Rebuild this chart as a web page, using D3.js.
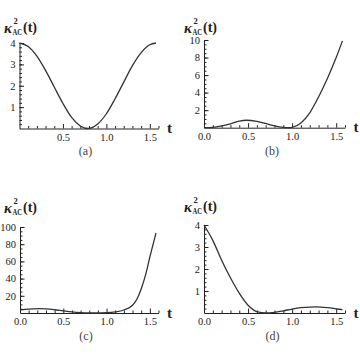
<!DOCTYPE html>
<html>
<head>
<meta charset="utf-8">
<script src="https://cdnjs.cloudflare.com/ajax/libs/d3/7.8.5/d3.min.js"></script>
<style>
  body { margin: 0; background: #fff; }
  svg { display: block; }
  .tick text { font-family: "Liberation Serif", "DejaVu Serif", serif; font-size: 10.5px; fill: #1a1a1a; }
  .tick line, .domain { stroke: #222; }
</style>
</head>
<body>
<svg width="360" height="360"></svg>
<script>
// values, t from 0 to pi/2
const tA = [0, 0.1, 0.2, 0.3, 0.4, 0.5, 0.6, 0.7, 0.785, 0.8, 0.9, 1.0, 1.1, 1.2, 1.3, 1.4, 1.5, 1.571];
const kA = [4, 3.84, 3.39, 2.72, 1.94, 1.17, 0.52, 0.12, 0, 0.003, 0.21, 0.69, 1.39, 2.17, 2.94, 3.55, 3.92, 4];

const tB = [0, 0.1, 0.2, 0.3, 0.4, 0.48, 0.6, 0.7, 0.8, 0.9, 0.96, 1.0, 1.1, 1.2, 1.3, 1.4, 1.5, 1.571];
const kB = [0, 0.04, 0.2, 0.45, 0.75, 0.85, 0.72, 0.48, 0.2, 0.03, 0, 0.04, 0.55, 1.7, 3.5, 5.6, 8.0, 9.9];

const tC = [0, 0.1, 0.22, 0.3, 0.4, 0.5, 0.6, 0.7, 0.8, 0.88, 1.0, 1.1, 1.2, 1.3, 1.35, 1.4, 1.45, 1.5, 1.571];
const kC = [3.5, 4.6, 5.1, 4.8, 3.8, 2.5, 1.3, 0.5, 0.1, 0, 0.3, 1.2, 3.5, 9, 16, 28, 44, 65, 93];

const tD = [0, 0.1, 0.2, 0.3, 0.4, 0.5, 0.6, 0.7, 0.8, 0.9, 1.0, 1.1, 1.2, 1.27, 1.4, 1.5, 1.571];
const kD = [4, 3.3, 2.4, 1.6, 0.9, 0.35, 0.06, 0, 0.03, 0.1, 0.18, 0.24, 0.27, 0.275, 0.24, 0.19, 0.15];

// tick labels
const xMajorA = [0.5, 1.0, 1.5];
const xMajorB = [0, 0.5, 1.0, 1.5];
const yMajorA = [1, 2, 3, 4];
const yMajorB = [2, 4, 6, 8, 10];
const yMajorC = [20, 40, 60, 80, 100];
const yMajorD = [1, 2, 3, 4];
const yMinorStep = { a: 0.2, b: 0.5, c: 5, d: 0.2 };
const panelNames = ["(a)", "(b)", "(c)", "(d)"];

const svg = d3.select("svg");
const serif = "'Liberation Serif', 'DejaVu Serif', serif";

const panels = [
  { id: "a", t: tA, k: kA, xt: xMajorA, yt: yMajorA, yMax: 4, x0: 19.5, x1: 158.5, yb: 128.5, yTop: 43, ox: 0, oy: 0, lx: 85.5, ly: 154.5 },
  { id: "b", t: tB, k: kB, xt: xMajorB, yt: yMajorB, yMax: 10, x0: 204, x1: 345, yb: 127.7, yTop: 40, ox: 180, oy: 0, lx: 272, ly: 155 },
  { id: "c", t: tC, k: kC, xt: xMajorB, yt: yMajorC, yMax: 100, x0: 20, x1: 158.5, yb: 313, yTop: 227, ox: 0, oy: 180, lx: 86, ly: 339.5 },
  { id: "d", t: tD, k: kD, xt: xMajorB, yt: yMajorD, yMax: 4, x0: 204, x1: 345, yb: 313, yTop: 225, ox: 180, oy: 179, lx: 272.5, ly: 339.5 }
];

panels.forEach((p, i) => {
  const x = d3.scaleLinear().domain([0, 1.6]).range([p.x0, p.x1]);
  const y = d3.scaleLinear().domain([0, p.yMax]).range([p.yb, p.yTop]);
  const g = svg.append("g");

  // minor ticks
  const xMinor = d3.range(1, 17).map(v => v / 10).filter(v => Math.abs(v * 2 - Math.round(v * 2)) > 1e-6);
  g.append("g").attr("transform", `translate(0,${p.yb})`)
    .call(d3.axisBottom(x).tickValues(xMinor).tickFormat("").tickSizeInner(-2.5).tickSizeOuter(0))
    .select(".domain").remove();
  const ns = Math.round(p.yMax / yMinorStep[p.id]);
  const yMinor = d3.range(1, ns + 1).map(v => v * yMinorStep[p.id]);
  g.append("g").attr("transform", `translate(${p.x0},0)`)
    .call(d3.axisLeft(y).tickValues(yMinor).tickFormat("").tickSizeInner(-2.5).tickSizeOuter(0))
    .select(".domain").remove();

  // major ticks + labels
  g.append("g").attr("transform", `translate(0,${p.yb})`)
    .call(d3.axisBottom(x).tickValues(p.xt).tickFormat(d3.format(".1f")).tickSizeInner(-4.5).tickSizeOuter(0).tickPadding(5));
  g.append("g").attr("transform", `translate(${p.x0},0)`)
    .call(d3.axisLeft(y).tickValues(p.yt).tickFormat(d3.format("d")).tickSizeInner(-4.5).tickSizeOuter(0).tickPadding(4));

  // curve
  const line = d3.line().x((d, j) => x(p.t[j])).y(d => y(d)).curve(d3.curveMonotoneX);
  g.append("path").datum(p.k)
    .attr("d", line)
    .attr("fill", "none")
    .attr("stroke", "#333")
    .attr("stroke-width", 1.3);

  // axis title kappa^2_AC(t)
  g.append("text").attr("x", 4 + p.ox).attr("y", 32.5 + p.oy)
    .attr("font-family", serif).attr("font-size", 15).attr("font-weight", "bold").attr("font-style", "italic")
    .attr("fill", "#222").text("κ");
  g.append("text").attr("x", 13.5 + p.ox).attr("y", 23.5 + p.oy)
    .attr("font-family", serif).attr("font-size", 8.5).attr("font-weight", "bold").attr("fill", "#222").text("2");
  g.append("text").attr("x", 12.5 + p.ox).attr("y", 35 + p.oy)
    .attr("font-family", serif).attr("font-size", 8).attr("font-weight", "bold").attr("fill", "#222")
    .attr("textLength", 9.5).attr("lengthAdjust", "spacingAndGlyphs").text("AC");
  g.append("text").attr("x", 23 + p.ox).attr("y", 32 + p.oy)
    .attr("font-family", serif).attr("font-size", 14).attr("font-weight", "bold").attr("fill", "#222").text("(t)");

  g.append("text").attr("x", x(1.6) + 11).attr("y", p.yb + 4.5)
    .attr("text-anchor", "middle")
    .attr("font-family", serif).attr("font-size", 15).attr("font-weight", "bold").attr("fill", "#222").text("t");

  g.append("text").attr("x", p.lx).attr("y", p.ly)
    .attr("text-anchor", "middle")
    .attr("font-family", serif).attr("font-size", 12).attr("fill", "#444").text(panelNames[i]);
});
</script>
</body>
</html>
